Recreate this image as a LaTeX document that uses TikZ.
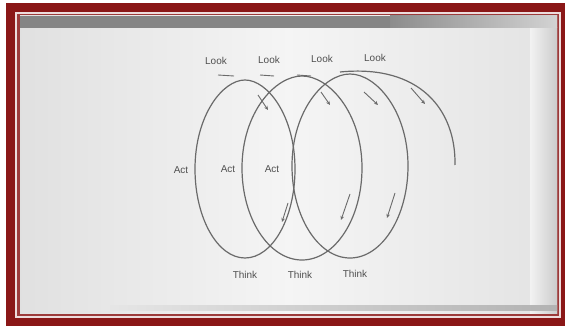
\documentclass[tikz,border=0pt]{standalone}
\usepackage{fontspec}
\setmainfont{Liberation Sans}
\usetikzlibrary{arrows.meta}
\definecolor{framered}{HTML}{8A1717}
\definecolor{inkgray}{HTML}{6A6A6A}
\definecolor{txtgray}{HTML}{505050}
\newcommand{\ovalat}[5]{(#1,#2) .. controls ({#1+0.45*#5},#2) and ({#1+#5},{#3-0.6*(#3-#2)}) .. ({#1+#5},#3) .. controls ({#1+#5},{#3+0.55*(#4-#3)}) and ({#1+0.55*#5},#4) .. (#1,#4) .. controls ({#1-0.55*#5},#4) and ({#1-#5},{#3+0.55*(#4-#3)}) .. ({#1-#5},#3) .. controls ({#1-#5},{#3-0.6*(#3-#2)}) and ({#1-0.45*#5},#2) .. cycle}
\tikzset{
  curve/.style={draw=inkgray, line width=1.2pt},
  flow/.style={draw=inkgray, line width=0.9pt, -{Stealth[length=4pt,width=3.6pt]}},
  tick/.style={draw=inkgray, line width=0.9pt},
  lbl/.style={text=txtgray, font=\fontsize{10}{12}\selectfont, inner sep=0pt}
}
\begin{document}
\begin{tikzpicture}[x=1pt,y=-1pt]
\useasboundingbox (0,0) rectangle (565,326);
% frame
\fill[white] (0,0) rectangle (565,326);
\fill[framered] (6,3) rectangle (565,326);
\fill[white!85!framered] (15,12) rectangle (561,318);
\fill[framered!85] (17,14) rectangle (559,316);
% scanned page
\shade[left color=gray!24, right color=gray!22, middle color=gray!8] (20,16) rectangle (557,313);
\shade[left color=gray!10, right color=gray!40] (530,28) rectangle (557,313);
\fill[black!48] (20,16) rectangle (390,28);
\shade[left color=black!45, right color=gray!35] (390,16) rectangle (557,28);
\shade[left color=gray!20, right color=gray!60] (110,305) rectangle (557,310);
% ovals
\draw[curve] \ovalat{245}{80}{169}{258}{50};
\draw[curve] \ovalat{302}{76}{168}{260}{60};
\draw[curve] \ovalat{350}{74}{166}{258}{58};
\draw[curve] (340,72) .. controls (420,64) and (456,110) .. (455,165);
% top dashes
\draw[tick] (218,75) -- (234,76);
\draw[tick] (260,75) -- (274,76);
\draw[tick] (297,75) -- (311,76);
% flow arrows
\draw[flow] (258,95) -- (268,110);
\draw[flow] (321,92) -- (330,105);
\draw[flow] (364,92) -- (378,105);
\draw[flow] (411,88) -- (425,104);
\draw[flow] (288,203) -- (282,222);
\draw[flow] (350,194) -- (341,220);
\draw[flow] (395,193) -- (387,218);
% labels
\node[lbl] (look1) at (216,61) {Look};
\node[lbl] (look2) at (269,60) {Look};
\node[lbl] (look3) at (322,59) {Look};
\node[lbl] (look4) at (375,58) {Look};
\node[lbl] (act1) at (181,170) {Act};
\node[lbl] (act2) at (228,169) {Act};
\node[lbl] (act3) at (272,169) {Act};
\node[lbl] (think1) at (245,275) {Think};
\node[lbl] (think2) at (300,275) {Think};
\node[lbl] (think3) at (355,274) {Think};
\end{tikzpicture}
\end{document}
